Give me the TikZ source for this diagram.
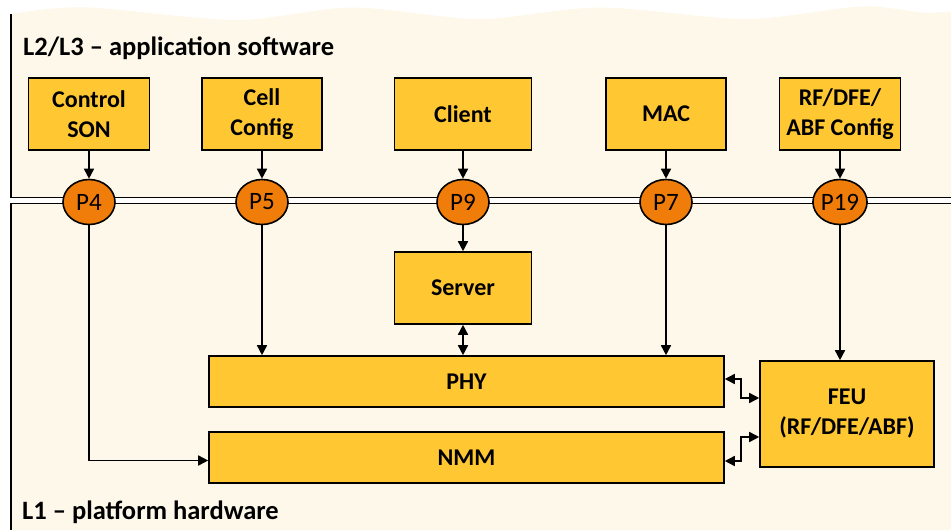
\documentclass[tikz,border=0pt]{standalone}
\usepackage{fontspec}
\setmainfont{Carlito}
\usetikzlibrary{arrows.meta,shapes.geometric,calc}
\definecolor{panelcream}{RGB}{254,248,234}
\definecolor{boxgold}{RGB}{255,200,50}
\definecolor{portorange}{RGB}{240,124,10}
\tikzset{
  blk/.style={draw=black, line width=1.6pt, fill=boxgold, inner sep=0pt,
    align=center, font=\bfseries\fontsize{24}{30}\selectfont},
  port/.style={ellipse, draw=black, line width=1.6pt, fill=portorange,
    inner sep=0pt, minimum width=52pt, minimum height=45pt,
    font=\fontsize{25}{27}\selectfont},
  conn/.style={line width=1.6pt, -{Triangle[length=10pt,width=10pt]}},
  biconn/.style={line width=1.6pt, {Triangle[length=10pt,width=10pt]}-{Triangle[length=10pt,width=10pt]}},
  rule/.style={line width=1.6pt},
  heading/.style={anchor=base west, inner sep=0pt, font=\bfseries\fontsize{26.5}{28}\selectfont}
}
\begin{document}
\begin{tikzpicture}[x=1pt,y=-1pt]
\useasboundingbox (0,0) rectangle (951,530);
% software layer with a torn upper edge
\fill[panelcream] plot[smooth] coordinates {(11,14) (85,7.3) (236,20) (352,7.5) (479,19) (600,7.5) (746,19) (861,6.5) (922,12.5) (951,11.5)}
  -- (951,197.5) -- (11,197.5) -- cycle;
\draw[rule] (11,14) -- (11,197.5) -- (951,197.5);
% hardware layer
\fill[panelcream] (11,203.5) rectangle (951,530);
\draw[rule] (951,203.5) -- (11,203.5) -- (11,530);

\node[heading] (swlabel) at (23,55.5) {L2/L3 -- application software};
\node[heading] (hwlabel) at (22,519) {L1 -- platform hardware};

% application blocks
\node[blk, minimum width=121pt, minimum height=72pt] (ctrl)   at (89,114)  {Control\\SON};
\node[blk, minimum width=120pt, minimum height=72pt] (cell)   at (262,114) {Cell\\Config};
\node[blk, minimum width=137pt, minimum height=72pt] (client) at (463,114) {Client};
\node[blk, minimum width=120pt, minimum height=72pt] (mac)    at (666,114) {MAC};
\node[blk, minimum width=121pt, minimum height=72pt] (rfcfg)  at (840,114) {RF/DFE/\\ABF Config};

% ports on the layer boundary
\node[port] (p4)  at (89,202)  {P4};
\node[port] (p5)  at (262,202) {P5};
\node[port] (p9)  at (463,202) {P9};
\node[port] (p7)  at (666,202) {P7};
\node[port] (p19) at (840,202) {P19};

% platform blocks
\node[blk, minimum width=137pt, minimum height=72pt]  (server) at (463,288)   {Server};
\node[blk, minimum width=515pt, minimum height=51pt]  (phy)    at (466.5,381.5) {PHY};
\node[blk, minimum width=515pt, minimum height=51pt]  (nmm)    at (466.5,457.5) {NMM};
\node[blk, minimum width=174pt, minimum height=106pt] (feu)    at (847,414)   {FEU\\(RF/DFE/ABF)};

% application to port
\draw[conn] (ctrl.south)   -- (p4.north);
\draw[conn] (cell.south)   -- (p5.north);
\draw[conn] (client.south) -- (p9.north);
\draw[conn] (mac.south)    -- (p7.north);
\draw[conn] (rfcfg.south)  -- (p19.north);

% port to platform
\draw[conn] (p4.south) |- ([yshift=-3pt]nmm.west);
\draw[conn] (p5.south) -- (p5.south |- phy.north);
\draw[conn] (p9.south) -- (server.north);
\draw[conn] (p7.south) -- (p7.south |- phy.north);
\draw[conn] (p19.south) -- (p19.south |- feu.north);
\draw[biconn] (server.south) -- (server.south |- phy.north);

% front end links
\coordinate (elbowtop) at (741,379);
\coordinate (elbowbot) at (741,461);
\draw[biconn] ([yshift=2.5pt]phy.east) -- (elbowtop) |- ([yshift=16pt]feu.west);
\draw[biconn] ([yshift=-3.5pt]nmm.east) -- (elbowbot) |- ([yshift=-23pt]feu.west);
\end{tikzpicture}
\end{document}
